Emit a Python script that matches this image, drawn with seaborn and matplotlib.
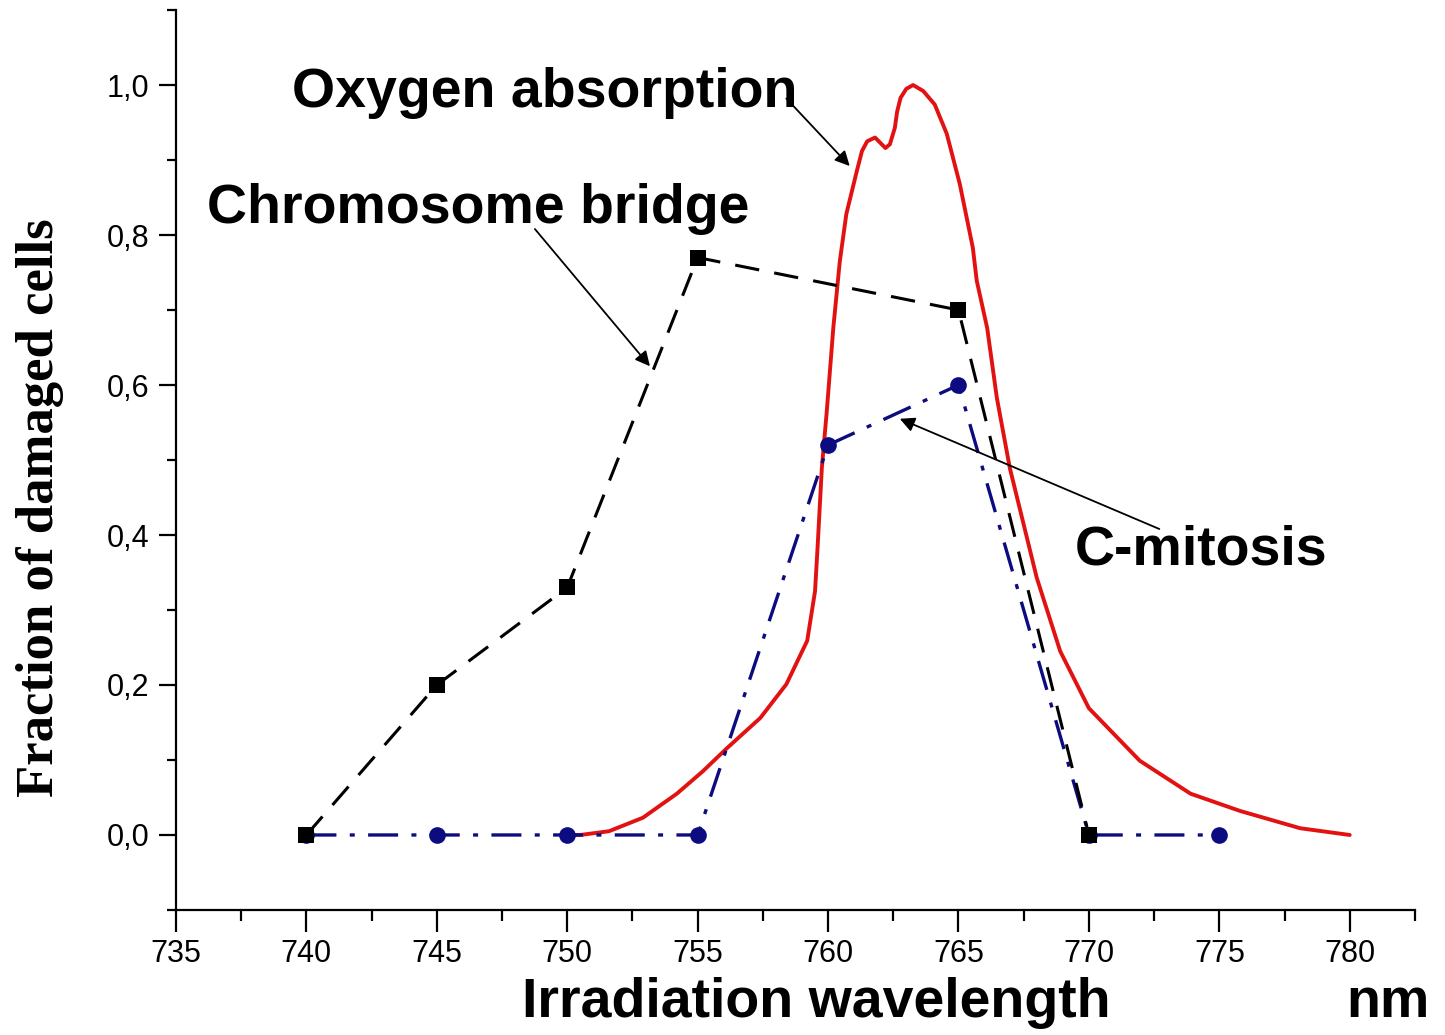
import matplotlib
matplotlib.use("Agg")
import matplotlib.pyplot as plt
import numpy as np
import pandas as pd
import seaborn as sns
from matplotlib.ticker import FuncFormatter, MultipleLocator

# oxygen absorption band (normalised)
oxy_wl = [750.0, 750.5, 751.6, 752.9, 754.2, 755.2, 756.1, 757.4, 758.4, 759.2,
          759.5, 759.6, 759.76, 759.95, 760.2, 760.45, 760.7, 761.1, 761.3, 761.5,
          761.8, 762.0, 762.2, 762.37, 762.56, 762.65, 762.78, 763.0, 763.26, 763.65,
          764.09, 764.55, 765.05, 765.55, 765.7, 766.1, 766.47, 766.97, 768.0, 768.9,
          770.0, 771.95, 773.9, 775.8, 778.1, 780.0]
oxy_abs = [0.0, 0.0, 0.005, 0.023, 0.055, 0.085, 0.115, 0.156, 0.201, 0.259,
           0.325, 0.385, 0.489, 0.565, 0.676, 0.765, 0.828, 0.885, 0.912, 0.925,
           0.930, 0.923, 0.916, 0.921, 0.943, 0.965, 0.983, 0.995, 1.0, 0.992,
           0.974, 0.935, 0.868, 0.783, 0.739, 0.676, 0.583, 0.489, 0.343, 0.245,
           0.169, 0.099, 0.055, 0.032, 0.009, 0.0]

# chromosome bridge fraction
bridge_wl = [740, 745, 750, 755, 765, 770]
bridge_frac = [0.0, 0.20, 0.33, 0.77, 0.70, 0.0]

# C-mitosis fraction
cmit_wl = [740, 745, 750, 755, 760, 765, 770, 775]
cmit_frac = [0.0, 0.0, 0.0, 0.0, 0.52, 0.60, 0.0, 0.0]

sns.set_style("ticks")
plt.rcParams['font.family'] = ['Liberation Sans', 'DejaVu Sans']
for key in ['text.color', 'axes.labelcolor', 'xtick.color', 'ytick.color', 'axes.edgecolor']:
    plt.rcParams[key] = 'black'

fig = plt.figure(figsize=(14.45, 10.35), dpi=100)
ax = fig.add_axes([0.1218, 0.1208, 0.9792 - 0.1218, 0.9903 - 0.1208])

red = '#e31212'
navy = '#0c0c80'

sns.lineplot(x=oxy_wl, y=oxy_abs, ax=ax, color=red, lw=2.8, sort=False,
             estimator=None, zorder=2)
sns.lineplot(x=cmit_wl, y=cmit_frac, ax=ax, color=navy, lw=2.4,
             linestyle=(0, (9, 4, 1.5, 4)), marker='o', markersize=12,
             mec=navy, mew=0, estimator=None, zorder=3)
sns.lineplot(x=bridge_wl, y=bridge_frac, ax=ax, color='black', lw=2.2,
             linestyle=(0, (8, 5)), marker='s', markersize=12,
             mec='black', mew=0, estimator=None, zorder=4)

ax.set_xlim(735, 782.5)
ax.set_ylim(-0.1, 1.1)
ax.xaxis.set_major_locator(MultipleLocator(5))
ax.xaxis.set_minor_locator(MultipleLocator(2.5))
ax.yaxis.set_major_locator(MultipleLocator(0.2))
ax.yaxis.set_minor_locator(MultipleLocator(0.1))
ax.yaxis.set_major_formatter(FuncFormatter(lambda v, _: f"{v:.1f}".replace('.', ',')))

for side in ['top', 'right']:
    ax.spines[side].set_visible(False)
for side in ['left', 'bottom']:
    ax.spines[side].set_linewidth(1.6)

ax.tick_params(axis='x', which='major', length=16, width=1.6, labelsize=22, pad=5, direction='out')
ax.tick_params(axis='x', which='minor', length=8, width=1.6, direction='out')
ax.tick_params(axis='y', which='major', length=12, width=1.6, labelsize=22, pad=7, direction='out')
ax.tick_params(axis='y', which='minor', length=6.5, width=1.6, direction='out')
ax.set_xlabel('')
ax.set_ylabel('')

bold = dict(fontsize=40, fontweight='bold', color='black', va='center', ha='left')
arrow = dict(arrowstyle='-|>', color='black', lw=1.3, mutation_scale=22, shrinkA=0, shrinkB=0)

ax.annotate('', xy=(760.83, 0.892), xytext=(758.4, 0.982), arrowprops=arrow)
ax.text(739.45, 0.99, 'Oxygen absorption', **bold)

ax.annotate('', xy=(753.17, 0.625), xytext=(748.76, 0.808), arrowprops=arrow)
ax.text(736.19, 0.835, 'Chromosome bridge', **bold)

ax.annotate('', xy=(762.75, 0.555), xytext=(772.7, 0.408), arrowprops=arrow)
ax.text(769.46, 0.379, 'C-mitosis', **bold)

fig.text(0.5647, 0.031, 'Irradiation wavelength', fontsize=40, fontweight='bold',
         ha='center', va='center')
fig.text(0.9606, 0.031, 'nm', fontsize=40, fontweight='bold', ha='center', va='center')
fig.text(0.0277, 0.509, 'Fraction of damaged cells', fontsize=38, fontweight='bold',
         family=['Liberation Serif', 'DejaVu Serif'], rotation=90, ha='center', va='center')

fig.savefig('out.png', dpi=100)
